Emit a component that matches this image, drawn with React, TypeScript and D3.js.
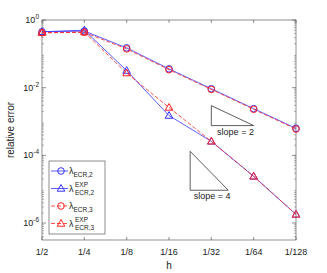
import React from "react";
import * as d3 from "d3";

const hLabels = ["1/2", "1/4", "1/8", "1/16", "1/32", "1/64", "1/128"];
const hExp = [1, 2, 3, 4, 5, 6, 7]; // h = 2^-k

const ecr2 = [0.45, 0.47, 0.15, 0.036, 0.0093, 0.0024, 0.00063];
const ecr2Exp = [0.45, 0.5, 0.032, 0.0015, 0.00026, 0.000024, 0.0000018];
const ecr3 = [0.42, 0.43, 0.14, 0.034, 0.0089, 0.0023, 0.0006];
const ecr3Exp = [0.42, 0.44, 0.027, 0.0026, 0.00026, 0.000024, 0.0000018];

const yTickExp = [0, -2, -4, -6];

// slope triangles in data space
const slope2 = { k0: 5, k1: 6, top: -2.53, bottom: -3.12, label: "slope = 2" };
const slope4 = { k0: 4.5, k1: 5.4, top: -3.88, bottom: -5.03, label: "slope = 4" };

const BLUE = "#3333ff";
const RED = "#ff2222";

const series = [
  { name: "ECR,2", sup: "", values: ecr2, color: BLUE, dash: "", marker: "circle" },
  { name: "ECR,2", sup: "EXP", values: ecr2Exp, color: BLUE, dash: "", marker: "triangle" },
  { name: "ECR,3", sup: "", values: ecr3, color: RED, dash: "4,2", marker: "circle" },
  { name: "ECR,3", sup: "EXP", values: ecr3Exp, color: RED, dash: "4,2", marker: "triangle" },
];

const W = 327;
const H = 273;
const m = { left: 42, right: 31, top: 20, bottom: 33 };

const Marker = ({ type, x, y, color }: { type: string; x: number; y: number; color: string }) =>
  type === "circle" ? (
    <circle cx={x} cy={y} r={3.3} fill="none" stroke={color} strokeWidth={1} />
  ) : (
    <path
      d={`M${x},${y - 4} L${x + 3.8},${y + 2.7} L${x - 3.8},${y + 2.7} Z`}
      fill="none"
      stroke={color}
      strokeWidth={1}
    />
  );

export default function App() {
  const x = d3.scaleLinear().domain([1, 7]).range([m.left, W - m.right]);
  const y = d3.scaleLog().domain([Math.pow(10, -6.5), 1]).range([H - m.bottom, m.top]);
  const x0 = m.left;
  const x1 = W - m.right;
  const y0 = H - m.bottom;
  const y1 = m.top;

  const line = d3
    .line<number>()
    .x((_, i) => x(hExp[i]))
    .y((d) => y(d));

  const minorTicks: number[] = [];
  for (let e = -7; e < 0; e++) {
    for (let k = 2; k <= 9; k++) {
      const v = k * Math.pow(10, e);
      if (v >= Math.pow(10, -6.5) && v <= 1) minorTicks.push(v);
    }
  }

  const tri = (s: typeof slope2) => {
    const ax = x(s.k0);
    const bx = x(s.k1);
    const ty = y(Math.pow(10, s.top));
    const by = y(Math.pow(10, s.bottom));
    return (
      <g>
        <path d={`M${ax},${ty} L${ax},${by} L${bx},${by} Z`} fill="none" stroke="#333" strokeWidth={0.8} />
        <text x={(ax + bx) / 2 + 3} y={by + 9} fontSize={9} textAnchor="middle" fill="#222">
          {s.label}
        </text>
      </g>
    );
  };

  const legX = 49;
  const legY = 161;
  const rowH = 17.5;

  return (
    <svg
      width={W}
      height={H}
      style={{ position: "absolute", left: 0, top: 0, fontFamily: "Liberation Sans, Arial, sans-serif" }}
    >
      <rect width={W} height={H} fill="white" />
      {/* box */}
      <rect x={x0} y={y1} width={x1 - x0} height={y0 - y1} fill="none" stroke="#444" strokeWidth={0.6} />
      {/* x ticks */}
      {hExp.map((k, i) => (
        <g key={k}>
          <line x1={x(k)} x2={x(k)} y1={y0} y2={y0 - 3} stroke="#444" strokeWidth={0.6} />
          <line x1={x(k)} x2={x(k)} y1={y1} y2={y1 + 3} stroke="#444" strokeWidth={0.6} />
          <text x={x(k)} y={y0 + 15} fontSize={9} textAnchor="middle" fill="#222">
            {hLabels[i]}
          </text>
        </g>
      ))}
      {/* y major ticks */}
      {yTickExp.map((e) => (
        <g key={e}>
          <line x1={x0} x2={x0 + 4} y1={y(Math.pow(10, e))} y2={y(Math.pow(10, e))} stroke="#444" strokeWidth={0.6} />
          <line x1={x1} x2={x1 - 4} y1={y(Math.pow(10, e))} y2={y(Math.pow(10, e))} stroke="#444" strokeWidth={0.6} />
          <text x={x0 - 3} y={y(Math.pow(10, e)) + 3} fontSize={9} textAnchor="end" fill="#222">
            10
            <tspan dy={-4} fontSize={6.5}>
              {e}
            </tspan>
          </text>
        </g>
      ))}
      {/* minor ticks */}
      {minorTicks.map((v, i) => (
        <g key={i}>
          <line x1={x0} x2={x0 + 2} y1={y(v)} y2={y(v)} stroke="#666" strokeWidth={0.5} />
          <line x1={x1} x2={x1 - 2} y1={y(v)} y2={y(v)} stroke="#666" strokeWidth={0.5} />
        </g>
      ))}
      <text x={169} y={269} fontSize={10} textAnchor="middle" fill="#222">
        h
      </text>
      <text
        transform={`translate(14,${(y0 + y1) / 2}) rotate(-90)`}
        fontSize={10}
        textAnchor="middle"
        fill="#222"
      >
        relative error
      </text>

      {/* series */}
      {series.map((s, si) => (
        <g key={si}>
          <path
            d={line(s.values) || ""}
            fill="none"
            stroke={s.color}
            strokeWidth={0.8}
            strokeDasharray={s.dash}
          />
          {s.values.map((v, i) => (
            <Marker key={i} type={s.marker} x={x(hExp[i])} y={y(v)} color={s.color} />
          ))}
        </g>
      ))}

      {tri(slope2)}
      {tri(slope4)}

      {/* legend */}
      <rect x={legX} y={legY} width={56} height={73} fill="white" stroke="#444" strokeWidth={0.6} />
      {series.map((s, i) => {
        const cy = legY + 10 + i * rowH;
        return (
          <g key={i}>
            <line x1={legX + 2} x2={legX + 19} y1={cy} y2={cy} stroke={s.color} strokeWidth={0.8} strokeDasharray={s.dash} />
            <Marker type={s.marker} x={legX + 12} y={cy} color={s.color} />
            <text x={legX + 20} y={cy + 3} fontSize={9} fill="#222">
              λ
              {s.sup ? (
                <>
                  <tspan x={legX + 26} dy={-5} fontSize={6.5}>
                    {s.sup}
                  </tspan>
                  <tspan x={legX + 26} dy={8.5} fontSize={6.5}>
                    {s.name}
                  </tspan>
                </>
              ) : (
                <tspan dy={3} fontSize={6.5}>
                  {s.name}
                </tspan>
              )}
            </text>
          </g>
        );
      })}
    </svg>
  );
}
